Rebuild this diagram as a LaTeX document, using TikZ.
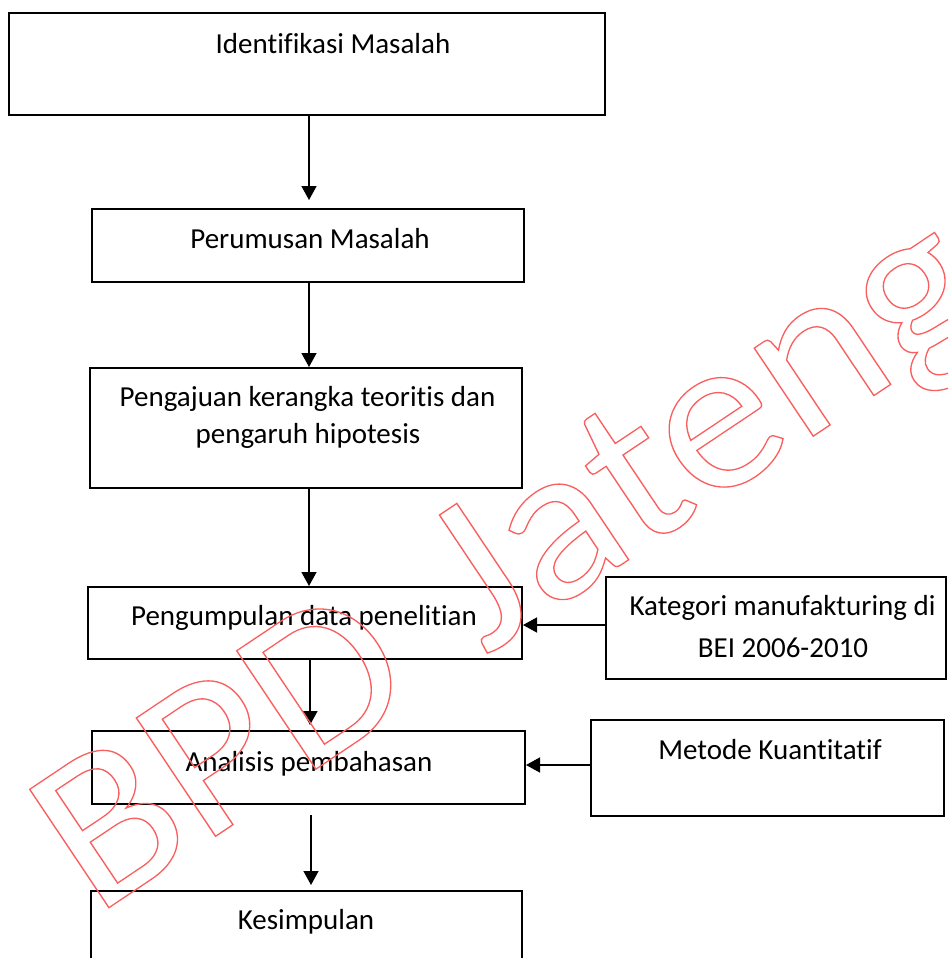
\documentclass[tikz,border=0pt]{standalone}
\usepackage{fontspec}
\setmainfont{Carlito}[Ligatures={NoCommon}]
\usetikzlibrary{arrows.meta}
\definecolor{wmred}{RGB}{250,95,95}
\newcommand\outlinetext[1]{\special{pdf:literal direct 1 Tr 1.3 w}\textcolor{wmred}{#1}\special{pdf:literal direct 0 Tr}}
\begin{document}
\begin{tikzpicture}[x=1pt,y=-1pt,
  box/.style={draw, line width=2pt, rectangle, inner sep=0pt},
  lbl/.style={font=\fontsize{29}{36}\selectfont, anchor=base, inner sep=0pt},
  arr/.style={line width=1.5pt, -{Triangle[length=14pt,width=15pt]}}]
\useasboundingbox (0,0) rectangle (948,958);
\clip (0,0) rectangle (948,958);
% boxes
\node[box, minimum width=596pt, minimum height=102pt] (b1) at (307,64) {};
\node[box, minimum width=432pt, minimum height=73pt] (b2) at (308,245.5) {};
\node[box, minimum width=432pt, minimum height=120pt] (b3) at (306,428) {};
\node[box, minimum width=434pt, minimum height=72pt] (b4) at (305,623) {};
\node[box, minimum width=340pt, minimum height=102pt] (b5) at (776,628) {};
\node[box, minimum width=433pt, minimum height=73pt] (b6) at (308.5,767.5) {};
\node[box, minimum width=353pt, minimum height=96pt] (b7) at (767.5,768) {};
\node[box, minimum width=431pt, minimum height=100pt] (b8) at (306.5,941) {};
% texts
\node[lbl] (l1) at (333,53) {Identifikasi Masalah};
\node[lbl] (l2) at (310,248) {Perumusan Masalah};
\node[lbl] (l3a) at (307.5,406) {Pengajuan kerangka teoritis dan};
\node[lbl] (l3b) at (308,443) {pengaruh hipotesis};
\node[lbl] (l4) at (304,625) {Pengumpulan data penelitian};
\node[lbl] (l5a) at (782.5,615) {Kategori manufakturing di};
\node[lbl] (l5b) at (783,657) {BEI 2006-2010};
\node[lbl] (l6) at (309,771) {Analisis pembahasan};
\node[lbl] (l7) at (770,759) {Metode Kuantitatif};
\node[lbl] (l8) at (306,929) {Kesimpulan};
% connector helpers
\coordinate (t1) at (309,200);
\coordinate (c2) at (309,0);
\coordinate (c3) at (309,0);
\coordinate (t4) at (310,725);
\coordinate (s5) at (311,815);
\coordinate (t5) at (311,885);
\coordinate (h1) at (0,625);
\coordinate (h2) at (0,765);
% connectors
\draw[arr] (b1.south -| t1) -- (t1);
\draw[arr] (b2.south -| c2) -- (b3.north -| c2);
\draw[arr] (b3.south -| c3) -- (b4.north -| c3);
\draw[arr] (b4.south -| t4) -- (t4);
\draw[arr] (s5) -- (t5);
\draw[arr] (b5.west |- h1) -- (b4.east |- h1);
\draw[arr] (b7.west |- h2) -- (b6.east |- h2);
% watermark
\node[rotate=33.8, xscale=1.06, anchor=base west, inner sep=0pt, font=\fontsize{222}{222}\selectfont] (wm) at (95,917) {\outlinetext{BPD\hspace{20pt} Jateng}};
\end{tikzpicture}
\end{document}
